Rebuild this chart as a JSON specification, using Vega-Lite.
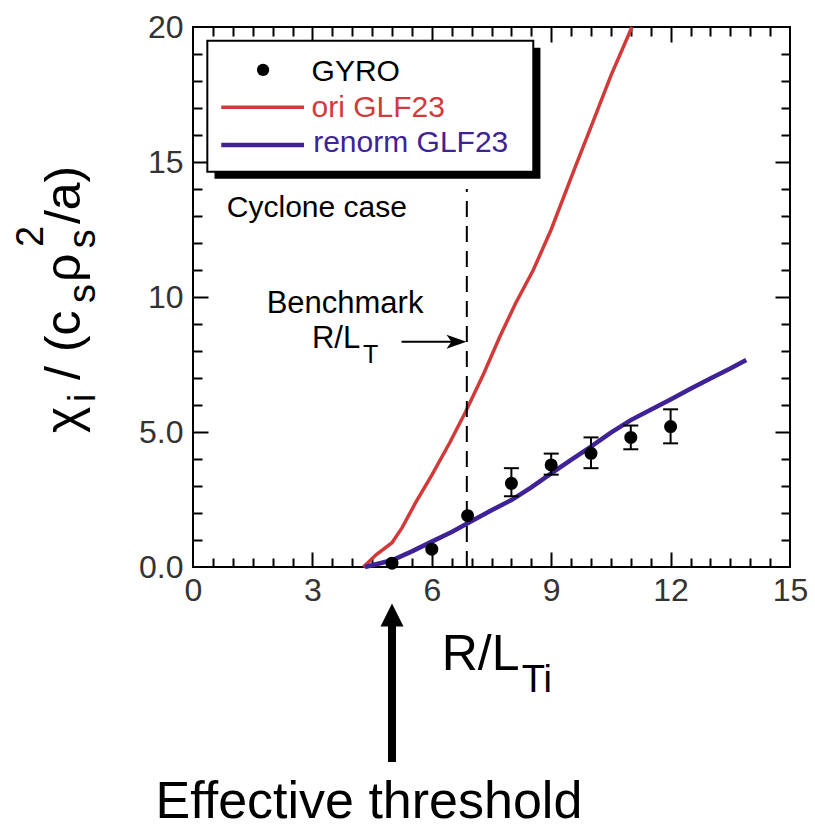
{
  "$schema": "https://vega.github.io/schema/vega-lite/v6.json",
  "width": 597,
  "height": 540,
  "autosize": {"type": "none"},
  "padding": {"left": 193, "top": 27, "right": 25, "bottom": 262},
  "background": "white",
  "data": {"values": [{}]},
  "config": {
    "font": "Liberation Sans",
    "view": {"stroke": "black", "strokeWidth": 2},
    "axis": {"grid": false, "domain": false, "tickColor": "black", "tickWidth": 2, "labelColor": "#333333", "labelFont": "Liberation Sans", "labelFontSize": 32}
  },
  "datasets": {
    "ori": [
      {"x": 4.28, "y": 0}, {"x": 4.6, "y": 0.45}, {"x": 5.0, "y": 0.9}, {"x": 5.25, "y": 1.45},
      {"x": 5.6, "y": 2.4}, {"x": 6.0, "y": 3.4}, {"x": 6.45, "y": 4.6}, {"x": 6.85, "y": 5.75},
      {"x": 7.3, "y": 7.15}, {"x": 7.7, "y": 8.5}, {"x": 8.1, "y": 9.75}, {"x": 8.55, "y": 11.0},
      {"x": 9.0, "y": 12.5}, {"x": 9.6, "y": 14.8}, {"x": 10.0, "y": 16.3}, {"x": 10.5, "y": 18.2},
      {"x": 11.03, "y": 20}
    ],
    "renorm": [
      {"x": 4.32, "y": 0}, {"x": 4.6, "y": 0.1}, {"x": 5.0, "y": 0.25}, {"x": 5.5, "y": 0.58},
      {"x": 6.0, "y": 0.94}, {"x": 6.5, "y": 1.3}, {"x": 6.9, "y": 1.62}, {"x": 7.5, "y": 2.1},
      {"x": 8.0, "y": 2.48}, {"x": 8.5, "y": 2.95}, {"x": 9.0, "y": 3.47}, {"x": 9.5, "y": 3.97},
      {"x": 10.0, "y": 4.46}, {"x": 10.5, "y": 4.98}, {"x": 11.0, "y": 5.44}, {"x": 11.5, "y": 5.82},
      {"x": 12.0, "y": 6.2}, {"x": 12.5, "y": 6.6}, {"x": 13.0, "y": 6.98}, {"x": 13.5, "y": 7.35},
      {"x": 13.9, "y": 7.67}
    ],
    "gyro": [
      {"x": 5, "y": 0.14}, {"x": 6, "y": 0.66}, {"x": 6.9, "y": 1.9},
      {"x": 8, "y": 3.1, "lo": 2.62, "hi": 3.66}, {"x": 9, "y": 3.78, "lo": 3.42, "hi": 4.2},
      {"x": 10, "y": 4.21, "lo": 3.66, "hi": 4.8}, {"x": 11, "y": 4.8, "lo": 4.36, "hi": 5.24},
      {"x": 12, "y": 5.2, "lo": 4.58, "hi": 5.84}
    ]
  },
  "resolve": {"axis": {"x": "independent", "y": "independent"}},
  "layer": [
    {
      "data": {"name": "ori"},
      "mark": {"type": "line", "color": "#d23a3a", "strokeWidth": 3.5},
      "encoding": {
        "x": {"field": "x", "type": "quantitative", "scale": {"domain": [0, 15], "nice": false, "zero": false},
              "axis": {"orient": "bottom", "title": null, "values": [0, 3, 6, 9, 12, 15], "ticks": false, "labelPadding": 8, "labelFlush": false}},
        "y": {"field": "y", "type": "quantitative", "scale": {"domain": [0, 20], "nice": false, "zero": false},
              "axis": {"orient": "left", "title": null, "values": [0, 5, 10, 15, 20], "ticks": false, "labelPadding": 10,
                       "labelExpr": "datum.value < 10 ? format(datum.value, '.1f') : format(datum.value, 'd')"}}
      }
    },
    {
      "data": {"name": "renorm"},
      "mark": {"type": "line", "color": "#3f2396", "strokeWidth": 4.5},
      "encoding": {
        "x": {"field": "x", "type": "quantitative", "scale": {"domain": [0, 15], "nice": false, "zero": false},
              "axis": {"orient": "bottom", "title": null, "values": [3, 6, 9, 12], "labels": false, "tickSize": -15}},
        "y": {"field": "y", "type": "quantitative", "scale": {"domain": [0, 20], "nice": false, "zero": false},
              "axis": {"orient": "left", "title": null, "values": [5, 10, 15], "labels": false, "tickSize": -15}}
      }
    },
    {
      "data": {"name": "gyro"},
      "transform": [{"filter": "isValid(datum.lo)"}],
      "mark": {"type": "rule", "color": "black", "strokeWidth": 2},
      "encoding": {
        "x": {"field": "x", "type": "quantitative",
              "axis": {"orient": "bottom", "title": null, "labels": false, "tickSize": -9,
                       "values": [0.5, 1, 1.5, 2, 2.5, 3.5, 4, 4.5, 5, 5.5, 6.5, 7, 7.5, 8, 8.5, 9.5, 10, 10.5, 11, 11.5, 12.5, 13, 13.5, 14, 14.5]}},
        "y": {"field": "lo", "type": "quantitative",
              "axis": {"orient": "left", "title": null, "labels": false, "tickSize": -9,
                       "values": [1, 2, 3, 4, 6, 7, 8, 9, 11, 12, 13, 14, 16, 17, 18, 19]}},
        "y2": {"field": "hi"}
      }
    },
    {
      "data": {"name": "gyro"},
      "transform": [{"filter": "isValid(datum.hi)"}],
      "mark": {"type": "tick", "orient": "horizontal", "color": "black", "size": 15, "thickness": 2, "opacity": 1},
      "encoding": {
        "x": {"field": "x", "type": "quantitative",
              "axis": {"orient": "top", "title": null, "values": [3, 6, 9, 12], "labels": false, "tickSize": -15}},
        "y": {"field": "hi", "type": "quantitative",
              "axis": {"orient": "right", "title": null, "values": [5, 10, 15], "labels": false, "tickSize": -15}}
      }
    },
    {
      "data": {"name": "gyro"},
      "transform": [{"filter": "isValid(datum.lo)"}],
      "mark": {"type": "tick", "orient": "horizontal", "color": "black", "size": 15, "thickness": 2, "opacity": 1},
      "encoding": {
        "x": {"field": "x", "type": "quantitative",
              "axis": {"orient": "top", "title": null, "labels": false, "tickSize": -9,
                       "values": [0.5, 1, 1.5, 2, 2.5, 3.5, 4, 4.5, 5, 5.5, 6.5, 7, 7.5, 8, 8.5, 9.5, 10, 10.5, 11, 11.5, 12.5, 13, 13.5, 14, 14.5]}},
        "y": {"field": "lo", "type": "quantitative",
              "axis": {"orient": "right", "title": null, "labels": false, "tickSize": -9,
                       "values": [1, 2, 3, 4, 6, 7, 8, 9, 11, 12, 13, 14, 16, 17, 18, 19]}}
      }
    },
    {
      "data": {"name": "gyro"},
      "mark": {"type": "point", "filled": true, "color": "black", "size": 170, "opacity": 1},
      "encoding": {
        "x": {"field": "x", "type": "quantitative", "axis": null},
        "y": {"field": "y", "type": "quantitative", "axis": null}
      }
    },
    {
      "mark": {"type": "rule", "color": "black", "strokeWidth": 2, "strokeDash": [16, 9]},
      "encoding": {
        "x": {"datum": 6.88, "type": "quantitative", "axis": null},
        "y": {"datum": 0, "type": "quantitative", "axis": null},
        "y2": {"datum": 14.0}
      }
    },
    {
      "mark": {"type": "rect", "color": "black"},
      "encoding": {
        "x": {"datum": 0.54, "type": "quantitative", "axis": null},
        "x2": {"datum": 8.73},
        "y": {"datum": 14.38, "type": "quantitative", "axis": null},
        "y2": {"datum": 19.23}
      }
    },
    {
      "mark": {"type": "rect", "fill": "white", "stroke": "black", "strokeWidth": 2},
      "encoding": {
        "x": {"datum": 0.36, "type": "quantitative", "axis": null},
        "x2": {"datum": 8.55},
        "y": {"datum": 14.64, "type": "quantitative", "axis": null},
        "y2": {"datum": 19.49}
      }
    },
    {
      "mark": {"type": "point", "filled": true, "color": "black", "size": 150, "opacity": 1},
      "encoding": {
        "x": {"datum": 1.76, "type": "quantitative", "axis": null},
        "y": {"datum": 18.41, "type": "quantitative", "axis": null}
      }
    },
    {
      "mark": {"type": "rule", "color": "#d23a3a", "strokeWidth": 3.5},
      "encoding": {
        "x": {"datum": 0.71, "type": "quantitative", "axis": null},
        "x2": {"datum": 2.79},
        "y": {"datum": 17.03, "type": "quantitative", "axis": null}
      }
    },
    {
      "mark": {"type": "rule", "color": "#3f2396", "strokeWidth": 4.5},
      "encoding": {
        "x": {"datum": 0.71, "type": "quantitative", "axis": null},
        "x2": {"datum": 2.79},
        "y": {"datum": 15.63, "type": "quantitative", "axis": null}
      }
    },
    {
      "mark": {"type": "text", "text": "GYRO", "align": "left", "baseline": "alphabetic", "fontSize": 30, "color": "black"},
      "encoding": {
        "x": {"datum": 2.98, "type": "quantitative", "axis": null},
        "y": {"datum": 17.99, "type": "quantitative", "axis": null}
      }
    },
    {
      "mark": {"type": "text", "text": "ori GLF23", "align": "left", "baseline": "alphabetic", "fontSize": 30, "color": "#d23a3a"},
      "encoding": {
        "x": {"datum": 2.98, "type": "quantitative", "axis": null},
        "y": {"datum": 16.68, "type": "quantitative", "axis": null}
      }
    },
    {
      "mark": {"type": "text", "text": "renorm GLF23", "align": "left", "baseline": "alphabetic", "fontSize": 30, "color": "#3f2396"},
      "encoding": {
        "x": {"datum": 3.02, "type": "quantitative", "axis": null},
        "y": {"datum": 15.38, "type": "quantitative", "axis": null}
      }
    },
    {
      "mark": {"type": "text", "text": "Cyclone case", "align": "left", "baseline": "alphabetic", "fontSize": 30, "color": "black"},
      "encoding": {
        "x": {"datum": 0.85, "type": "quantitative", "axis": null},
        "y": {"datum": 12.97, "type": "quantitative", "axis": null}
      }
    },
    {
      "mark": {"type": "text", "text": "Benchmark", "align": "center", "baseline": "alphabetic", "fontSize": 31, "color": "black"},
      "encoding": {
        "x": {"datum": 3.82, "type": "quantitative", "axis": null},
        "y": {"datum": 9.4, "type": "quantitative", "axis": null}
      }
    },
    {
      "mark": {"type": "text", "text": "R/L", "align": "right", "baseline": "alphabetic", "fontSize": 31, "color": "black"},
      "encoding": {
        "x": {"datum": 4.2, "type": "quantitative", "axis": null},
        "y": {"datum": 8.1, "type": "quantitative", "axis": null}
      }
    },
    {
      "mark": {"type": "text", "text": "T", "align": "left", "baseline": "alphabetic", "fontSize": 25, "color": "black"},
      "encoding": {
        "x": {"datum": 4.27, "type": "quantitative", "axis": null},
        "y": {"datum": 7.54, "type": "quantitative", "axis": null}
      }
    },
    {
      "mark": {"type": "rule", "color": "black", "strokeWidth": 2},
      "encoding": {
        "x": {"datum": 5.24, "type": "quantitative", "axis": null},
        "x2": {"datum": 6.7},
        "y": {"datum": 8.34, "type": "quantitative", "axis": null}
      }
    },
    {
      "mark": {"type": "point", "shape": "M-1,-0.7L1,0L-1,0.7L-0.5,0Z", "filled": true, "color": "black", "size": 400, "opacity": 1},
      "encoding": {
        "x": {"datum": 6.62, "type": "quantitative", "axis": null},
        "y": {"datum": 8.34, "type": "quantitative", "axis": null}
      }
    },
    {
      "mark": {"type": "text", "text": "R/L", "align": "left", "baseline": "alphabetic", "fontSize": 50, "color": "black"},
      "encoding": {
        "x": {"datum": 6.25, "type": "quantitative", "axis": null},
        "y": {"datum": -3.81, "type": "quantitative", "axis": null}
      }
    },
    {
      "mark": {"type": "text", "text": "Ti", "align": "left", "baseline": "alphabetic", "fontSize": 38, "color": "black"},
      "encoding": {
        "x": {"datum": 8.26, "type": "quantitative", "axis": null},
        "y": {"datum": -4.62, "type": "quantitative", "axis": null}
      }
    },
    {
      "mark": {"type": "rule", "color": "black", "strokeWidth": 8},
      "encoding": {
        "x": {"datum": 5.0, "type": "quantitative", "axis": null},
        "y": {"datum": -2.1, "type": "quantitative", "axis": null},
        "y2": {"datum": -7.22}
      }
    },
    {
      "mark": {"type": "point", "shape": "M0,-1L1,1L-1,1Z", "filled": true, "color": "black", "size": 529, "opacity": 1},
      "encoding": {
        "x": {"datum": 5.0, "type": "quantitative", "axis": null},
        "y": {"datum": -1.78, "type": "quantitative", "axis": null}
      }
    },
    {
      "mark": {"type": "text", "text": "Effective threshold", "align": "center", "baseline": "alphabetic", "fontSize": 52, "color": "black"},
      "encoding": {
        "x": {"datum": 4.42, "type": "quantitative", "axis": null},
        "y": {"datum": -9.3, "type": "quantitative", "axis": null}
      }
    },
    {
      "mark": {"type": "text", "text": "χ", "angle": 270, "align": "left", "baseline": "alphabetic", "fontSize": 50, "color": "black"},
      "encoding": {
        "x": {"datum": -2.84, "type": "quantitative", "axis": null},
        "y": {"datum": 4.96, "type": "quantitative", "axis": null}
      }
    },
    {
      "mark": {"type": "text", "text": "i", "angle": 270, "align": "left", "baseline": "alphabetic", "fontSize": 38, "color": "black"},
      "encoding": {
        "x": {"datum": -2.46, "type": "quantitative", "axis": null},
        "y": {"datum": 6.11, "type": "quantitative", "axis": null}
      }
    },
    {
      "mark": {"type": "text", "text": "/ (c", "angle": 270, "align": "left", "baseline": "alphabetic", "fontSize": 50, "color": "black"},
      "encoding": {
        "x": {"datum": -2.84, "type": "quantitative", "axis": null},
        "y": {"datum": 6.93, "type": "quantitative", "axis": null}
      }
    },
    {
      "mark": {"type": "text", "text": "s", "angle": 270, "align": "left", "baseline": "alphabetic", "fontSize": 38, "color": "black"},
      "encoding": {
        "x": {"datum": -2.46, "type": "quantitative", "axis": null},
        "y": {"datum": 9.78, "type": "quantitative", "axis": null}
      }
    },
    {
      "mark": {"type": "text", "text": "ρ", "angle": 270, "align": "left", "baseline": "alphabetic", "fontSize": 50, "color": "black"},
      "encoding": {
        "x": {"datum": -2.84, "type": "quantitative", "axis": null},
        "y": {"datum": 10.56, "type": "quantitative", "axis": null}
      }
    },
    {
      "mark": {"type": "text", "text": "s", "angle": 270, "align": "left", "baseline": "alphabetic", "fontSize": 38, "color": "black"},
      "encoding": {
        "x": {"datum": -2.46, "type": "quantitative", "axis": null},
        "y": {"datum": 11.81, "type": "quantitative", "axis": null}
      }
    },
    {
      "mark": {"type": "text", "text": "2", "angle": 270, "align": "left", "baseline": "alphabetic", "fontSize": 38, "color": "black"},
      "encoding": {
        "x": {"datum": -3.77, "type": "quantitative", "axis": null},
        "y": {"datum": 11.85, "type": "quantitative", "axis": null}
      }
    },
    {
      "mark": {"type": "text", "text": "/a)", "angle": 270, "align": "left", "baseline": "alphabetic", "fontSize": 50, "color": "black"},
      "encoding": {
        "x": {"datum": -2.84, "type": "quantitative", "axis": null},
        "y": {"datum": 12.7, "type": "quantitative", "axis": null}
      }
    }
  ]
}
